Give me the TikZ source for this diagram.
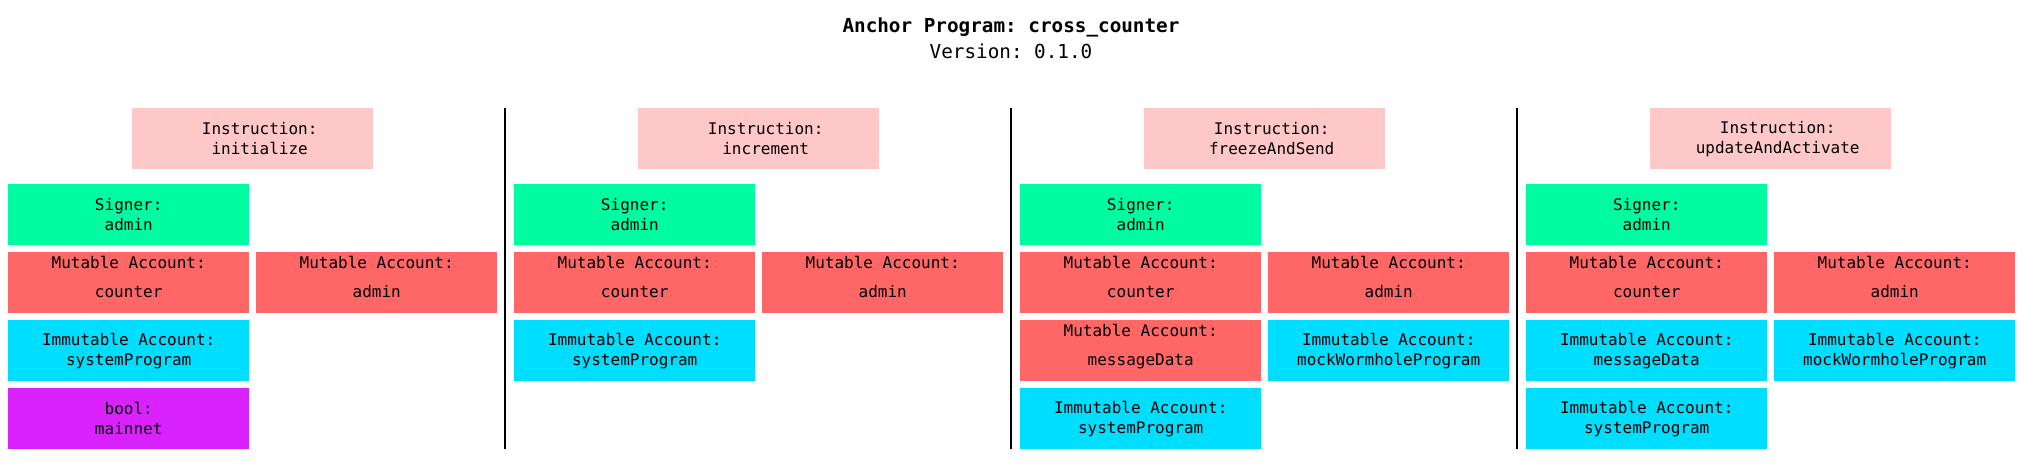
\documentclass[tikz,border=0pt]{standalone}
\usepackage{fontspec}
\setmonofont{DejaVu Sans Mono}
\definecolor{instrc}{RGB}{255,200,200}
\definecolor{signc}{RGB}{0,252,160}
\definecolor{mutc}{RGB}{255,102,102}
\definecolor{immc}{RGB}{0,222,255}
\definecolor{boolc}{RGB}{218,34,255}
\tikzset{
  boxfont/.style={font=\ttfamily\fontsize{16}{20}\selectfont},
  box/.style={rectangle, anchor=north west, minimum width=241pt, minimum height=61pt, inner sep=0pt, align=center, boxfont},
  instrbox/.style={box, fill=instrc},
  instrtext/.style={inner sep=0pt, align=center, boxfont, xshift=7pt},
  signbox/.style={box, fill=signc},
  mutbox/.style={box, fill=mutc, text depth=12pt},
  immbox/.style={box, fill=immc},
  boolbox/.style={box, fill=boolc},
  sepline/.style={line width=2.7pt, black},
  titlefont/.style={font=\ttfamily\fontsize{19.3}{26}\selectfont, align=center}
}
\begin{document}
\begin{tikzpicture}[x=1pt,y=-1pt]
\useasboundingbox (0,0) rectangle (2022,472);
\node[titlefont, anchor=north] (title) at (1011,14) {\textbf{Anchor Program: cross\_counter}\\Version: 0.1.0};
% column 1
\node[instrbox] (i1) at (132,108) {};
\node[instrtext] (i1t) at (i1.center) {Instruction:\\initialize};
\node[signbox] (s1) at (8,184) {Signer:\\admin};
\node[mutbox] (m1a) at (8,252) {Mutable Account:\\[9pt]counter};
\node[mutbox] (m1b) at (256,252) {Mutable Account:\\[9pt]admin};
\node[immbox] (im1a) at (8,320) {Immutable Account:\\systemProgram};
\node[boolbox] (b1) at (8,388) {bool:\\mainnet};
% column 2
\node[instrbox] (i2) at (638,108) {};
\node[instrtext] (i2t) at (i2.center) {Instruction:\\increment};
\node[signbox] (s2) at (514,184) {Signer:\\admin};
\node[mutbox] (m2a) at (514,252) {Mutable Account:\\[9pt]counter};
\node[mutbox] (m2b) at (762,252) {Mutable Account:\\[9pt]admin};
\node[immbox] (im2a) at (514,320) {Immutable Account:\\systemProgram};
% column 3
\node[instrbox] (i3) at (1144,108) {};
\node[instrtext] (i3t) at (i3.center) {Instruction:\\freezeAndSend};
\node[signbox] (s3) at (1020,184) {Signer:\\admin};
\node[mutbox] (m3a) at (1020,252) {Mutable Account:\\[9pt]counter};
\node[mutbox] (m3b) at (1268,252) {Mutable Account:\\[9pt]admin};
\node[mutbox] (m3c) at (1020,320) {Mutable Account:\\[9pt]messageData};
\node[immbox] (im3b) at (1268,320) {Immutable Account:\\mockWormholeProgram};
\node[immbox] (im3a) at (1020,388) {Immutable Account:\\systemProgram};
% column 4
\node[instrbox] (i4) at (1650,108) {};
\node[instrtext] (i4t) at (i4.center) {Instruction:\\updateAndActivate};
\node[signbox] (s4) at (1526,184) {Signer:\\admin};
\node[mutbox] (m4a) at (1526,252) {Mutable Account:\\[9pt]counter};
\node[mutbox] (m4b) at (1774,252) {Mutable Account:\\[9pt]admin};
\node[immbox] (im4a) at (1526,320) {Immutable Account:\\messageData};
\node[immbox] (im4b) at (1774,320) {Immutable Account:\\mockWormholeProgram};
\node[immbox] (im4c) at (1526,388) {Immutable Account:\\systemProgram};
% separators
\coordinate (l1t) at (505,108); \coordinate (l1b) at (505,449);
\coordinate (l2t) at (1011,108); \coordinate (l2b) at (1011,449);
\coordinate (l3t) at (1517,108); \coordinate (l3b) at (1517,449);
\draw[sepline] (l1t) -- (l1b);
\draw[sepline] (l2t) -- (l2b);
\draw[sepline] (l3t) -- (l3b);
\end{tikzpicture}
\end{document}
